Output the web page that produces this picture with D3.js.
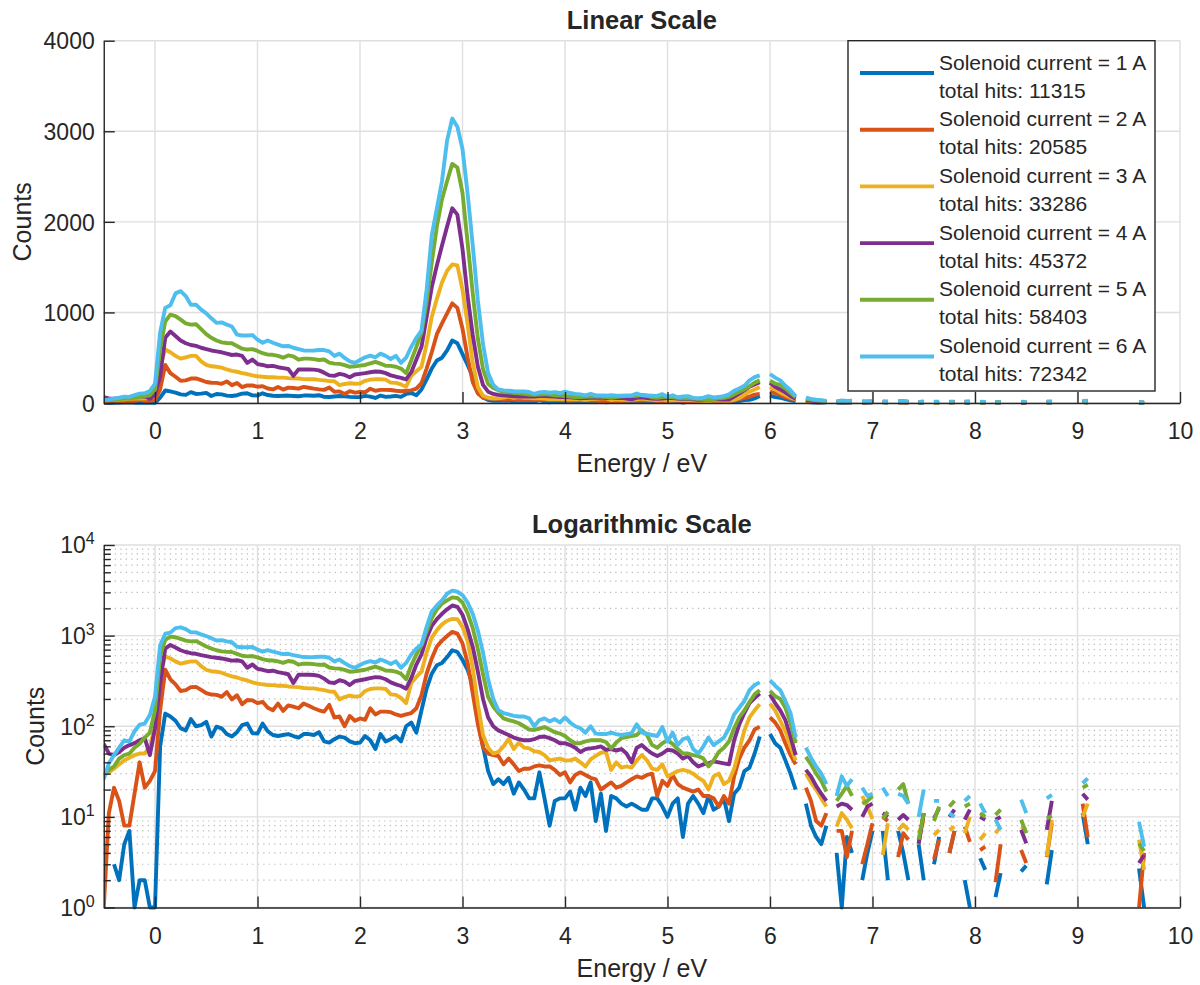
<!DOCTYPE html>
<html>
<head>
<meta charset="utf-8">
<script src="https://cdn.jsdelivr.net/npm/d3@7"></script>
<style>
  body { margin: 0; background: #fff; }
  text { font-family: "Liberation Sans", Arial, Helvetica, sans-serif; fill: #262626; }
</style>
</head>
<body>
<svg id="chart" width="1200" height="985"></svg>
<script>
// energy bin centres (eV)
const energy = [
  -0.5,-0.45,-0.4,-0.35,-0.3,-0.25,-0.2,-0.15,-0.1,-0.05,
  0,0.05,0.1,0.15,0.2,0.25,0.3,0.35,0.4,0.45,0.5,0.55,0.6,0.65,0.7,0.75,0.8,0.85,0.9,0.95,
  1,1.05,1.1,1.15,1.2,1.25,1.3,1.35,1.4,1.45,1.5,1.55,1.6,1.65,1.7,1.75,1.8,1.85,1.9,1.95,
  2,2.05,2.1,2.15,2.2,2.25,2.3,2.35,2.4,2.45,2.5,2.55,2.6,2.65,2.7,2.75,2.8,2.85,2.9,2.95,
  3,3.05,3.1,3.15,3.2,3.25,3.3,3.35,3.4,3.45,3.5,3.55,3.6,3.65,3.7,3.75,3.8,3.85,3.9,3.95,
  4,4.05,4.1,4.15,4.2,4.25,4.3,4.35,4.4,4.45,4.5,4.55,4.6,4.65,4.7,4.75,4.8,4.85,4.9,4.95,
  5,5.05,5.1,5.15,5.2,5.25,5.3,5.35,5.4,5.45,5.5,5.55,5.6,5.65,5.7,5.75,5.8,5.85,5.9,5.95,
  6,6.05,6.1,6.15,6.2,6.25,6.3,6.35,6.4,6.45,6.5,6.55,6.6,6.65,6.7,6.75,6.8,6.85,6.9,6.95,
  7,7.05,7.1,7.15,7.2,7.25,7.3,7.35,7.4,7.45,7.5,7.55,7.6,7.65,7.7,7.75,7.8,7.85,7.9,7.95,
  8,8.05,8.1,8.15,8.2,8.25,8.3,8.35,8.4,8.45,8.5,8.55,8.6,8.65,8.7,8.75,8.8,8.85,8.9,8.95,
  9,9.05,9.1,9.15,9.2,9.25,9.3,9.35,9.4,9.45,9.5,9.55,9.6,9.65
];

const N = null; // empty bin

const counts1A = [
  0,0,3,2,5,7,1,2,2,1, 1,60,138,128,115,95,90,120,100,103,
  112,77,99,95,82,77,86,103,107,84, 83,107,88,80,78,80,82,78,75,82,
  82,80,86,68,66,72,77,75,68,65, 66,78,70,56,82,68,72,78,68,100,
  110,85,150,260,380,470,500,580,690,660, 540,420,290,140,60,32,23,26,23,27,
  18,24,20,16,16,31,16,8,15,16, 16,19,12,21,17,24,9,18,7,17,
  16,14,13,14,13,12,12,16,16,13, 10,14,16,6,14,17,14,11,17,12,
  13,16,9,18,21,32,35,50,77,N, 82,65,58,42,30,20,N,14,8,6,
  5,8,N,4,1,6,4,N,2,4, 7,N,7,2,N,7,4,2,N,5,
  2,N,3,6,N,4,7,N,2,1, N,3.5,2.6,N,1.3,2.4,N,N,N,2.5,
  2.9,N,N,N,1.8,4.3,N,N,N,N, N,11,5,N,N,N,N,N,N,N,
  N,N,2.7,1
];
const counts2A = [
  1,11,21,15,8,8,18,40,21,25, 32,150,420,330,290,245,250,270,272,252,
  232,224,222,212,238,198,220,175,195,193, 180,186,160,150,178,148,170,165,158,178,
  168,158,150,145,172,125,128,100,130,115, 122,118,158,135,145,145,143,135,130,135,
  140,158,220,380,560,760,880,990,1100,1050, 820,500,230,105,58,50,48,47,38,44,
  38,32,34,34,36,37,36,36,33,29, 31,24,29,31,29,27,26,20,22,24,
  21,22,24,26,28,27,29,30,17,25, 22,29,23,21,20,19,20,17,17,16,
  13,17,14,28,44,58,70,92,99,N, 125,110,90,65,48,38,N,21,15,9,
  8,11,N,7,7,3.6,7,N,3,5, 8.5,N,10,9,N,3.6,6.6,5.6,N,5,
  11,N,3.4,5.6,N,4,7,N,7.8,5.3, N,4.3,4.7,N,1.9,5,N,N,N,4.3,
  3.1,N,N,N,3.6,8.5,N,N,N,N, N,14,6,N,N,N,N,N,N,N,
  N,N,1,4
];
const counts3A = [
  29,31,34,38,42,45,48,50,50,60, 100,400,590,560,520,490,505,520,520,460,
  420,405,400,390,370,355,345,330,320,305, 295,290,285,284,280,280,275,272,270,264,
  262,262,255,250,242,240,198,210,218,212, 215,245,258,262,262,258,225,222,205,180,
  300,350,400,650,950,1150,1330,1460,1530,1520, 1250,870,440,175,80,58,50,52,60,72,
  56,66,58,57,53,52,48,42,43,44, 42,42,44,40,36,43,47,51,52,33,
  40,35,36,35,42,48,42,34,33,38, 28,30,32,33,32,30,27,25,20,28,
  30,23,25,34,55,90,125,150,175,N, 178,150,115,88,60,42,N,30,24,20,
  16,13,N,7.8,11,9.3,7.5,N,17,13, 9.5,N,3.8,8.5,N,7.2,8.2,7.2,N,6.6,
  9,N,6.3,7.2,N,7.2,7.8,N,6.6,10, N,5.6,6.6,N,6.6,7.8,N,N,N,7.8,
  7.2,N,N,N,3.65,9.3,N,N,N,N, N,10,14,N,N,N,N,N,N,N,
  N,N,5.6,2.6
];
const counts4A = [
  64,50,48,52,58,62,65,70,74,48, 95,300,720,790,740,690,660,640,630,610,
  595,580,570,560,545,530,535,520,442,480, 430,420,405,410,395,385,375,300,370,370,
  370,368,360,335,305,300,322,310,285,315, 322,330,340,348,345,330,305,290,278,260,
  340,480,620,950,1280,1520,1740,1950,2150,2080, 1700,1180,750,400,200,125,100,90,85,80,
  75,72,70,70,72,76,77,74,70,65, 65,62,58,52,56,57,58,60,55,56,
  54,56,50,40,58,62,55,50,47,50, 55,54,50,44,47,40,36,38,39,41,
  40,39,38,70,105,140,180,205,230,N, 225,180,150,117,77,48,N,33,28,22,
  18,15,N,13,14,13.5,12,N,10,13, 14,N,11,10,N,9.3,10.5,9.3,N,5.1,
  11,N,9.6,12.5,N,10,12,N,9.3,12, N,10,9.3,N,9.3,10,N,N,N,7.2,
  5.1,N,N,N,7.2,15,N,N,N,N, N,18,15.5,N,N,N,N,N,N,N,
  N,N,3.1,3.8
];
const counts5A = [
  30,33,36,44,48,50,58,64,75,85, 150,600,900,975,960,920,880,865,870,815,
  760,720,690,670,662,660,630,600,590,595, 575,550,534,532,520,500,525,515,478,490,
  490,485,475,480,445,435,432,418,400,405, 412,420,438,455,435,412,410,400,380,330,
  470,620,780,1120,1550,1950,2250,2450,2640,2600, 2320,1770,1210,710,375,210,165,140,122,117,
  113,108,100,92,91,94,98,92,86,83, 78,70,65,65,68,70,70,70,67,57,
  66,74,76,78,80,90,80,62,58,65, 70,64,56,50,50,48,47,44,36,42,
  52,58,68,95,125,150,185,225,250,N, 245,215,200,160,110,65,N,46,38,30,
  25,19,N,15,18,22,17,N,14,15, 17,N,9.6,11.4,N,20,23,14,N,5.6,
  11,N,9,13,N,13,15,N,13,14, N,11,10,N,10.5,12,N,N,N,9.3,
  6.6,N,N,N,9.6,10.2,N,N,N,N, N,21,22.6,N,N,N,N,N,N,N,
  N,N,5.1,4.2
];
const counts6A = [
  26,39,48,58,70,68,88,104,107,133, 212,780,1050,1080,1210,1235,1180,1085,1085,1030,
  990,935,885,890,865,845,755,745,745,750, 700,665,690,665,645,626,630,610,595,580,
  578,580,585,585,570,520,545,497,460,442, 475,504,522,505,545,520,486,520,442,500,
  620,720,800,1250,1850,2150,2450,2900,3140,3050, 2805,2310,1740,1130,650,330,200,150,140,135,
  130,128,128,122,100,117,122,113,120,110, 125,110,100,95,85,100,83,82,82,85,
  82,80,82,84,105,85,83,80,78,98, 68,85,62,72,75,56,50,60,75,62,
  68,75,95,135,160,190,250,285,305,N, 320,280,250,190,140,75,N,58,45,36,
  30,23,N,17,28,22,26,N,21,17, 18,N,21,17,N,18,17,14,N,10,
  20,N,15,15,N,11,10,N,15,17, N,14,11,N,9.3,7.2,N,N,N,15.5,
  11,N,N,N,16,17.5,N,N,N,N, N,23.5,26.6,N,N,N,N,N,N,N,
  N,N,8.8,4.7
];

const currents = [1, 2, 3, 4, 5, 6];
const totalHits = [11315, 20585, 33286, 45372, 58403, 72342];
const colors = ["#0072BD", "#D95319", "#EDB120", "#7E2F8E", "#77AC30", "#4DBEEE"];
const xTicks = [0, 1, 2, 3, 4, 5, 6, 7, 8, 9, 10];
const linTicks = [0, 1000, 2000, 3000, 4000];
const logTicks = [1, 10, 100, 1000, 10000];

const allCounts = [counts1A, counts2A, counts3A, counts4A, counts5A, counts6A];
const series = allCounts.map((c, i) => ({
  color: colors[i],
  pts: energy.map((e, j) => ({ e: e, v: c[j] }))
}));

const svg = d3.select("#chart");
const axisColor = "#262626";
const lineW = 3.9;
const left = 103.75, right = 1180;
const x = d3.scaleLinear().domain([-0.5, 10]).range([left, right]);

function drawPanel(opt) {
  const y = opt.y;
  const top = y.range()[1], bottom = y.range()[0];
  const g = svg.append("g");

  // minor grid (log only)
  if (opt.minor) {
    g.selectAll(".mgrid").data(opt.minor).enter().append("line")
      .attr("x1", left).attr("x2", right)
      .attr("y1", d => y(d)).attr("y2", d => y(d))
      .attr("stroke", "#b8b8b8").attr("stroke-width", 1.2)
      .attr("stroke-dasharray", "1.2,4.3");
  }
  // major grid
  g.selectAll(".vgrid").data(xTicks).enter().append("line")
    .attr("x1", d => x(d)).attr("x2", d => x(d))
    .attr("y1", top).attr("y2", bottom)
    .attr("stroke", "#dfdfdf").attr("stroke-width", 1.4);
  g.selectAll(".hgrid").data(opt.ticks).enter().append("line")
    .attr("x1", left).attr("x2", right)
    .attr("y1", d => y(d)).attr("y2", d => y(d))
    .attr("stroke", "#dfdfdf").attr("stroke-width", 1.4);

  // data lines
  const clipId = "clip" + opt.id;
  svg.append("clipPath").attr("id", clipId).append("rect")
    .attr("x", left).attr("y", top - 2).attr("width", right - left).attr("height", bottom - top + 5);
  const line = d3.line()
    .defined(d => d.v !== null && (!opt.isLog || d.v > 0))
    .x(d => x(d.e)).y(d => y(d.v));
  g.append("g").attr("clip-path", "url(#" + clipId + ")")
    .selectAll("path").data(series).enter().append("path")
    .attr("d", s => line(s.pts))
    .attr("fill", "none").attr("stroke", s => s.color)
    .attr("stroke-width", lineW).attr("stroke-linejoin", "round");

  // axes
  g.append("g").attr("transform", "translate(0," + bottom + ")")
    .call(d3.axisBottom(x).tickValues(xTicks).tickSizeInner(-11).tickSizeOuter(0).tickPadding(20).tickFormat(d3.format("d")));
  const ya = g.append("g").attr("transform", "translate(" + left + ",0)")
    .call(d3.axisLeft(y).tickValues(opt.ticks).tickSizeInner(-11).tickSizeOuter(0).tickPadding(9)
      .tickFormat(opt.isLog ? () => "" : d3.format("d")));
  if (opt.minor) {
    g.append("g").attr("transform", "translate(" + left + ",0)")
      .call(d3.axisLeft(y).tickValues(opt.minor).tickSizeInner(-7).tickSizeOuter(0).tickFormat(() => ""))
      .call(a => a.select(".domain").remove());
  }
  g.selectAll(".domain").attr("stroke", axisColor).attr("stroke-width", 1.4);
  g.selectAll(".tick line").attr("stroke", axisColor).attr("stroke-width", 1.4);
  g.selectAll(".tick text").attr("fill", axisColor).style("font-size", "23px")
    .style("font-family", "'Liberation Sans', Arial, sans-serif");
  ya.selectAll(".tick text").attr("dy", "0.36em");

  if (opt.isLog) {
    opt.ticks.forEach(t => {
      const tx = g.append("text").attr("x", left - 9).attr("y", y(t)).attr("dy", "0.36em")
        .attr("text-anchor", "end").style("font-size", "23px");
      tx.append("tspan").text("10");
      tx.append("tspan").attr("dy", "-0.55em").style("font-size", "16px").text(Math.round(Math.log10(t)));
    });
  }

  // labels
  g.append("text").attr("x", (left + right) / 2).attr("y", top - 12)
    .attr("text-anchor", "middle").style("font-size", "25.5px").style("font-weight", "bold")
    .text(opt.title);
  g.append("text").attr("x", (left + right) / 2).attr("y", bottom + 69)
    .attr("text-anchor", "middle").style("font-size", "25px").text("Energy / eV");
  g.append("text").attr("transform", "translate(" + opt.ylabX + "," + ((top + bottom) / 2) + ") rotate(-90)")
    .attr("dy", "0.36em").attr("text-anchor", "middle").style("font-size", "25px").text("Counts");
}

const yLin = d3.scaleLinear().domain([0, 4000]).range([403, 40.7]);
drawPanel({ id: "lin", y: yLin, ticks: linTicks, isLog: false, title: "Linear Scale", ylabX: 22 });

const minorLog = [];
[1, 10, 100, 1000].forEach(b => [2, 3, 4, 5, 6, 7, 8, 9].forEach(m => minorLog.push(b * m)));
const yLog = d3.scaleLog().domain([1, 10000]).range([907.5, 545]);
drawPanel({ id: "log", y: yLog, ticks: logTicks, minor: minorLog, isLog: true, title: "Logarithmic Scale", ylabX: 35 });

// legend
const lg = svg.append("g");
lg.append("rect").attr("x", 848).attr("y", 40.7).attr("width", 307).attr("height", 350.3)
  .attr("fill", "#fff").attr("stroke", axisColor).attr("stroke-width", 1.4);
currents.forEach((c, i) => {
  const yy = 73 + i * 56.7;
  lg.append("line").attr("x1", 860).attr("x2", 934).attr("y1", yy).attr("y2", yy)
    .attr("stroke", colors[i]).attr("stroke-width", lineW);
  lg.append("text").attr("x", 939).attr("y", yy - 11).attr("dy", "0.36em").style("font-size", "21px")
    .text("Solenoid current = " + c + " A");
  lg.append("text").attr("x", 939).attr("y", yy + 17).attr("dy", "0.36em").style("font-size", "21px")
    .text("total hits: " + totalHits[i]);
});
</script>
</body>
</html>
